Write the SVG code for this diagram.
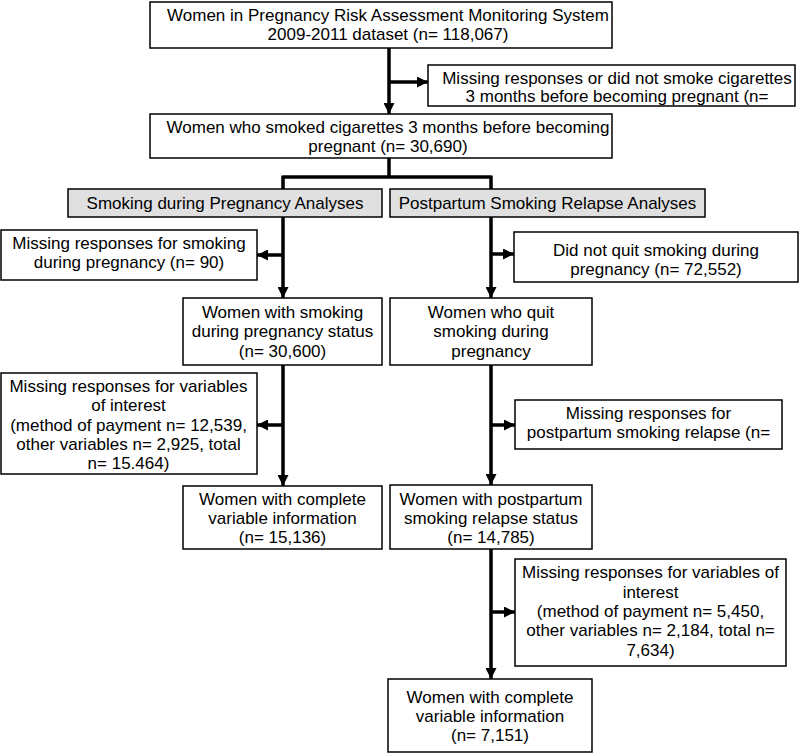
<svg xmlns="http://www.w3.org/2000/svg" width="800" height="754" viewBox="0 0 800 754">
<style>
.box{fill:#fff;stroke:#000;stroke-width:1.5}
.gray{fill:#e0e0e0;stroke:#000;stroke-width:1.5}
text{font-family:"Liberation Sans",Arial,sans-serif;font-size:17px;fill:#000;text-anchor:middle}
.ln{stroke:#000;stroke-width:3.5;fill:none}
</style>
<defs>
<marker id="ah" viewBox="0 0 10 10" refX="10" refY="5" markerWidth="11" markerHeight="11" markerUnits="userSpaceOnUse" orient="auto">
<path d="M0,0 L10,5 L0,10 z" fill="#000"/>
</marker>
<clipPath id="c1"><rect x="0" y="373" width="257" height="101"/></clipPath>
</defs>
<rect width="800" height="754" fill="#fff"/>
<g id="connectors">
<path class="ln" d="M389,48 V114" marker-end="url(#ah)"/>
<path class="ln" d="M389,82 H428" marker-end="url(#ah)"/>
<path class="ln" d="M389,158 V177 M283,177 H491 M283,175.5 V189 M491,175.5 V189"/>
<path class="ln" d="M283,217 V298" marker-end="url(#ah)"/>
<path class="ln" d="M283,255 H257" marker-end="url(#ah)"/>
<path class="ln" d="M283,365 V486" marker-end="url(#ah)"/>
<path class="ln" d="M283,425 H257" marker-end="url(#ah)"/>
<path class="ln" d="M491,217 V298" marker-end="url(#ah)"/>
<path class="ln" d="M491,254 H514" marker-end="url(#ah)"/>
<path class="ln" d="M491,365 V485" marker-end="url(#ah)"/>
<path class="ln" d="M491,425 H515" marker-end="url(#ah)"/>
<path class="ln" d="M491,549 V679" marker-end="url(#ah)"/>
<path class="ln" d="M491,612 H515" marker-end="url(#ah)"/>
</g>
<g id="n_total">
<rect class="box" x="150" y="2" width="462" height="46"/>
<text x="388" y="21">Women in Pregnancy Risk Assessment Monitoring System</text>
<text x="388" y="40">2009-2011 dataset (n= 118,067)</text>
</g>
<g id="n_excl1">
<rect class="box" x="428" y="65" width="367" height="41"/>
<text x="617" y="84">Missing responses or did not smoke cigarettes</text>
<text x="617" y="102">3 months before becoming pregnant (n=</text>
</g>
<g id="n_smoked">
<rect class="box" x="150" y="114" width="462" height="44"/>
<text x="388" y="133">Women who smoked cigarettes 3 months before becoming</text>
<text x="388" y="152">pregnant (n= 30,690)</text>
</g>
<g id="n_sdp">
<rect class="gray" x="68" y="189" width="314" height="28"/>
<text x="225" y="209">Smoking during Pregnancy Analyses</text>
</g>
<g id="n_psr">
<rect class="gray" x="390" y="189" width="315" height="28"/>
<text x="547.5" y="209">Postpartum Smoking Relapse Analyses</text>
</g>
<g id="n_miss_sdp">
<rect class="box" x="1" y="230" width="256" height="50"/>
<text x="129" y="249">Missing responses for smoking</text>
<text x="129" y="268">during pregnancy (n= 90)</text>
</g>
<g id="n_notquit">
<rect class="box" x="514" y="232" width="284" height="50"/>
<text x="656" y="256">Did not quit smoking during</text>
<text x="656" y="275">pregnancy (n= 72,552)</text>
</g>
<g id="n_sdp_status">
<rect class="box" x="183" y="298" width="199" height="67"/>
<text x="282.5" y="318">Women with smoking</text>
<text x="282.5" y="337">during pregnancy status</text>
<text x="282.5" y="357">(n= 30,600)</text>
</g>
<g id="n_quit">
<rect class="box" x="390" y="298" width="202" height="67"/>
<text x="491" y="318">Women who quit</text>
<text x="491" y="337">smoking during</text>
<text x="491" y="357">pregnancy</text>
</g>
<g id="n_miss_var_l">
<rect class="box" x="1" y="373" width="256" height="101"/>
<g clip-path="url(#c1)">
<text x="128.5" y="392">Missing responses for variables</text>
<text x="128.5" y="411">of interest</text>
<text x="128.5" y="431">(method of payment n= 12,539,</text>
<text x="128.5" y="450">other variables n= 2,925, total</text>
<text x="128.5" y="469">n= 15.464)</text>
</g>
</g>
<g id="n_miss_psr">
<rect class="box" x="515" y="400" width="267" height="49"/>
<text x="648.5" y="419">Missing responses for</text>
<text x="648.5" y="438">postpartum smoking relapse (n=</text>
</g>
<g id="n_complete_l">
<rect class="box" x="183" y="486" width="199" height="63"/>
<text x="282.5" y="505">Women with complete</text>
<text x="282.5" y="524">variable information</text>
<text x="282.5" y="543">(n= 15,136)</text>
</g>
<g id="n_psr_status">
<rect class="box" x="390" y="485" width="202" height="64"/>
<text x="491" y="505">Women with postpartum</text>
<text x="491" y="524">smoking relapse status</text>
<text x="491" y="543">(n= 14,785)</text>
</g>
<g id="n_miss_var_r">
<rect class="box" x="515" y="559" width="271" height="107"/>
<text x="650.5" y="578">Missing responses for variables of</text>
<text x="650.5" y="598">interest</text>
<text x="650.5" y="617">(method of payment n= 5,450,</text>
<text x="650.5" y="636">other variables n= 2,184, total n=</text>
<text x="650.5" y="656">7,634)</text>
</g>
<g id="n_complete_r">
<rect class="box" x="388" y="679" width="204" height="73"/>
<text x="490" y="703">Women with complete</text>
<text x="490" y="722">variable information</text>
<text x="490" y="741">(n= 7,151)</text>
</g>
</svg>
